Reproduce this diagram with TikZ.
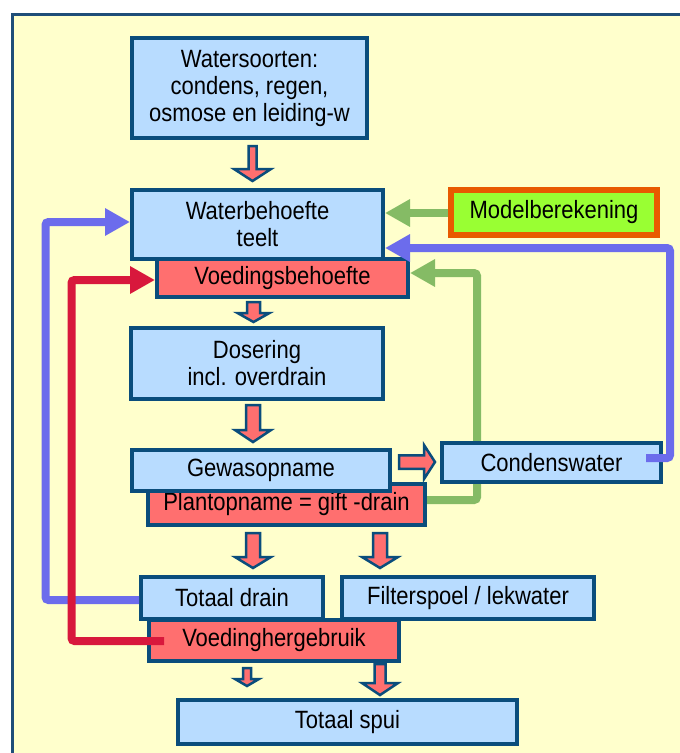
\documentclass[tikz,border=0pt]{standalone}
\usepackage{fontspec}
\setmainfont{Liberation Sans}[FakeStretch=0.88]
\usetikzlibrary{arrows.meta}
\definecolor{bgyellow}{HTML}{FFFFCC}
\definecolor{framecol}{HTML}{1F4E79}
\definecolor{boxcol}{HTML}{0A4D7C}
\definecolor{lblue}{HTML}{B8DCFF}
\definecolor{salmon}{HTML}{FF6F6F}
\definecolor{gline}{HTML}{85BB65}
\definecolor{bline}{HTML}{6C6CEC}
\definecolor{rline}{HTML}{D8183C}
\definecolor{lime}{HTML}{99FF33}
\definecolor{orng}{HTML}{E85A00}
\newcommand\dnarrow[6]{%
  \filldraw[barr] (#1-#4,#2) -- (#1+#4,#2) -- (#1+#4,#3-#6) -- (#1+#5,#3-#6) -- (#1,#3) -- (#1-#5,#3-#6) -- (#1-#4,#3-#6) -- cycle;}
\newcommand\rtarrow[6]{%
  \filldraw[barr] (#2,#1-#4) -- (#2,#1+#4) -- (#3-#6,#1+#4) -- (#3-#6,#1+#5) -- (#3,#1) -- (#3-#6,#1-#5) -- (#3-#6,#1-#4) -- cycle;}
\begin{document}
\begin{tikzpicture}[x=1pt,y=-1pt,
  font=\fontsize{25}{27}\selectfont,
  bbox/.style={draw=boxcol,line width=4pt,fill=lblue,inner sep=0pt,align=center,text=black},
  rbox/.style={bbox,fill=salmon},
  barr/.style={draw=boxcol,fill=salmon,line width=2.5pt,line join=miter},
  conn/.style={line width=8pt,rounded corners=3pt,-{Triangle[length=25pt,width=26pt]}},
  connplain/.style={line width=8pt,rounded corners=3pt}]
\useasboundingbox (0,0) rectangle (680,753);
\fill[white] (0,0) rectangle (680,753);
\fill[bgyellow] (12,14) rectangle (690,760);
\draw[framecol,line width=3pt] (12,760) -- (12,14) -- (690,14);
% block arrows
\dnarrow{252.5}{146}{181}{4}{18.5}{12}
\dnarrow{253.5}{302}{322}{6.5}{16}{9}
\dnarrow{253}{405}{442}{7}{18}{12}
\rtarrow{462}{399}{435}{6.75}{17}{11}
\dnarrow{253}{533}{568}{7}{18}{11}
\dnarrow{380}{533}{568}{7}{18}{11}
\dnarrow{247}{668}{686}{4}{12}{7}
\dnarrow{380}{664}{695}{5.5}{18}{12}
% boxes
\node[bbox,minimum width=235pt,minimum height=100pt] (w1) at (249.5,88) {Watersoorten:\\condens, regen,\\osmose en leiding-w};
\node[rbox,minimum width=251pt,minimum height=38pt] (vb) at (282.5,278) {\raisebox{-1pt}{Voedingsbehoefte}};
\node[bbox,minimum width=251pt,minimum height=69pt] (wb) at (257.5,224.5) {Waterbehoefte\\teelt};
\node[bbox,minimum width=252pt,minimum height=71pt] (dos) at (257,363.5) {Dosering\\incl. overdrain};
\node[rbox,minimum width=277pt,minimum height=41pt] (pl) at (286.5,504.5) {\raisebox{-4pt}{Plantopname = gift -drain}};
\node[bbox,minimum width=258pt,minimum height=41pt] (gew) at (261,470.5) {Gewasopname};
\node[rbox,minimum width=250pt,minimum height=41pt] (vh) at (274,640.5) {Voedinghergebruik};
\node[bbox,minimum width=182pt,minimum height=42pt] (td) at (232,598) {Totaal drain};
\node[bbox,minimum width=252pt,minimum height=42pt] (fs) at (468,598) {Filterspoel / lekwater};
\node[bbox,minimum width=339pt,minimum height=44pt] (ts) at (347.5,722) {Totaal spui};
\node[bbox,draw=orng,line width=6pt,fill=lime,minimum width=206pt,minimum height=45pt] (mb) at (554,212.5) {Modelberekening};
% connectors
\draw[conn,gline] (mb.west |- 0,213) -- (wb.east |- 0,213);
\draw[conn,gline] (pl.east |- 0,500) -- (477,500) -- (477,273) -- (vb.east |- 0,273);
\node[bbox,minimum width=219pt,minimum height=39pt] (cond) at (551.5,462.5) {Condenswater};
\coordinate (cs) at (646,458);
\draw[conn,bline] (cs) -- (670,458) -- (670,248) -- (wb.east |- 0,248);
\draw[conn,bline] (td.west |- 0,600) -- (45.5,600) -- (45.5,222) -- (wb.west |- 0,222);
\coordinate (vs) at (164,641);
\draw[conn,rline] (vs) -- (71.5,641) -- (71.5,280) -- (vb.west |- 0,280);
\end{tikzpicture}
\end{document}
